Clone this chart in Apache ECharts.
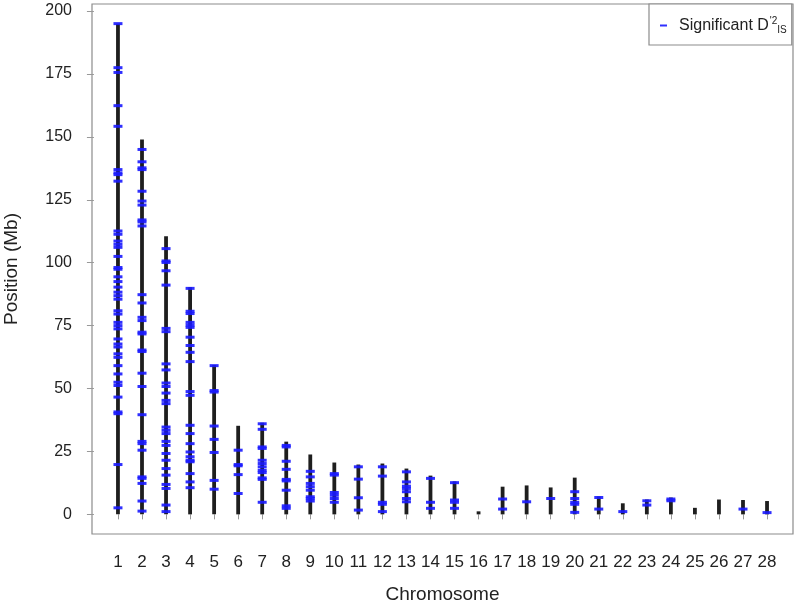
<!DOCTYPE html>
<html>
<head>
<meta charset="utf-8">
<script src="https://cdn.jsdelivr.net/npm/echarts@6/dist/echarts.min.js"></script>
<style>
    html, body {margin: 0; padding: 0; background: #fff;}
    #chart {width: 796px; height: 606px;}
</style>
</head>
<body>
<div id="chart"></div>
<script>
const chromosomes = [1, 2, 3, 4, 5, 6, 7, 8, 9, 10, 11, 12, 13, 14, 15, 16, 17, 18, 19, 20, 21, 22, 23, 24, 25, 26, 27, 28]

// chromosome length (Mb)
const chrom_lengths = [195, 149, 110.5, 90.3, 59.4, 35.2, 36.4, 28.9, 23.8, 20.6, 19.8, 20.2, 18.2, 15.4,
    13.1, 1.2, 11, 11.5, 10.7, 14.6, 7.1, 4.4, 5.9, 6.7, 2.6, 5.9, 5.7, 5.3]

// significant positions (Mb), one list per chromosome
const sig_positions = [
    [195, 177.5, 175.6, 162.4, 154.2, 137, 135.7, 135, 132.4, 112.6, 111.3, 108.6, 107.3, 106.1, 102.5, 98.1,
        97.4, 94.4, 92.5, 90.3, 88.3, 86.9, 85.5, 80.9, 79.6, 76.3, 75, 73.7, 69.7, 67.7, 66.5, 63.8, 62.4,
        59.1, 55.8, 52.5, 51.2, 46.6, 40.7, 40, 19.8, 2.6],
    [145, 140.1, 137.7, 137, 128.4, 124.5, 122.9, 117, 116.2, 114.6, 87.3, 84, 78.3, 77, 72.4, 71.7, 65.3,
        64.7, 56.1, 50.8, 39.6, 29, 28.1, 25.5, 14.9, 14.3, 12.3, 5.3, 1.3],
    [105.6, 100.7, 100.1, 96.8, 91.1, 73.9, 72.6, 59.8, 57.4, 52.2, 50.8, 48.2, 45.3, 44, 34.7, 33.4, 32.1,
        29, 27.4, 24.2, 21.5, 18.2, 15.6, 11.9, 10.3, 3.7, 1.1],
    [89.8, 80.7, 79.8, 76.3, 75.2, 74.3, 70.4, 67.1, 64.4, 60.7, 48.8, 47.3, 35.4, 32.1, 28.1, 24.8, 22.9,
        21.5, 20.9, 16.2, 12.9, 10.6],
    [59.1, 49.2, 48.6, 35.1, 29.8, 24.6, 13.5, 10],
    [25.5, 19.8, 19.3, 15.8, 8.3],
    [36, 33.8, 26.8, 26.2, 21.5, 20.2, 18.9, 17.5, 16.6, 14.5, 13.9, 4.8],
    [27.4, 26.8, 21.1, 17.9, 13.9, 13.3, 9.6, 3.4, 2.4],
    [17.1, 14.9, 12.3, 11, 9.6, 7, 6.3, 5.3],
    [16.2, 15.6, 8.7, 7.6, 6.3, 4.8],
    [18.9, 14, 6.6, 1.7],
    [18.9, 15.2, 4.8, 4, 1.1],
    [16.9, 12.9, 11.2, 10.3, 9, 6.3, 5],
    [14.3, 4.8, 2.4],
    [12.6, 5.7, 4.8, 2.4],
    [],
    [6.1, 2.1],
    [5],
    [6.3],
    [9, 6.3, 4.8, 4, 0.8],
    [6.7, 2.1],
    [1.1],
    [5.4, 3.7],
    [6.1, 5.4],
    [],
    [],
    [2.1],
    [0.7],
]

const y_ticks = [0, 25, 50, 75, 100, 125, 150, 175, 200]

const FONT = '"Liberation Sans", Arial, Helvetica, sans-serif'

const line_data = chromosomes.map((c, i) => [c, chrom_lengths[i]])
const sig_data = []
chromosomes.forEach((c, i) => {
    sig_positions[i].forEach(p => sig_data.push([c, p]))
})

const chart = echarts.init(document.getElementById('chart'))

chart.setOption({
    animation: false,
    textStyle: {fontFamily: FONT},
    grid: {
        left: 92,
        right: 3,
        top: 4,
        bottom: 72,
        outerBoundsMode: 'none',
        containLabel: false,
        show: true,
        borderColor: '#8c8c8c',
        borderWidth: 1.2,
        backgroundColor: '#fff',
    },
    legend: {
        data: ['Significant'],
        left: 649,
        top: 4,
        orient: 'vertical',
        padding: [12, 5, 10, 11],
        borderColor: '#8c8c8c',
        borderWidth: 1.2,
        backgroundColor: '#fff',
        icon: 'rect',
        itemWidth: 7,
        itemHeight: 2,
        itemGap: 0,
        formatter: () => 'Significant D{sup|\'2}{sub|IS}',
        textStyle: {
            fontFamily: FONT,
            fontSize: 16,
            color: '#222',
            padding: [0, 0, 0, 7],
            rich: {
                sup: {fontSize: 10, fontFamily: FONT, color: '#222', padding: [0, 0, 9, 1]},
                sub: {fontSize: 10, fontFamily: FONT, color: '#222', padding: [9, 0, 0, 0]},
            },
        },
    },
    xAxis: {
        type: 'value',
        min: -0.08,
        max: 29.08,
        offset: 3,
        splitLine: {show: false},
        axisLine: {show: false},
        axisTick: {
            show: true,
            customValues: chromosomes,
            length: 5,
            lineStyle: {color: '#999'},
        },
        axisLabel: {
            customValues: chromosomes,
            margin: 17,
            fontSize: 17,
            color: '#222',
            fontFamily: FONT,
        },
        name: 'Chromosome',
        nameLocation: 'middle',
        nameGap: 48,
        nameTextStyle: {fontSize: 19, color: '#222', fontFamily: FONT},
    },
    yAxis: {
        type: 'value',
        min: -7.8,
        max: 202.8,
        offset: 7,
        splitLine: {show: false},
        axisLine: {show: false},
        axisTick: {
            show: true,
            customValues: y_ticks,
            length: 7,
            lineStyle: {color: '#999'},
        },
        axisLabel: {
            customValues: y_ticks,
            margin: 13,
            fontSize: 16,
            color: '#222',
            fontFamily: FONT,
        },
        name: 'Position (Mb)',
        nameLocation: 'middle',
        nameRotate: 90,
        nameGap: 64,
        nameTextStyle: {fontSize: 19, color: '#222', fontFamily: FONT},
    },
    series: [
        {
            name: 'Chromosome',
            type: 'custom',
            data: line_data,
            renderItem: (params, api) => {
                const p0 = api.coord([api.value(0), 0])
                const p1 = api.coord([api.value(0), api.value(1)])
                return {
                    type: 'line',
                    shape: {x1: p0[0], y1: p0[1], x2: p1[0], y2: p1[1]},
                    style: {stroke: '#1e1e1e', lineWidth: 3.8},
                }
            },
            silent: true,
            z: 2,
        },
        {
            name: 'Significant',
            type: 'scatter',
            data: sig_data,
            symbol: 'rect',
            symbolSize: [9, 3],
            itemStyle: {color: '#1a1aff', opacity: 0.9},
            z: 3,
        },
    ],
})
</script>
</body>
</html>
